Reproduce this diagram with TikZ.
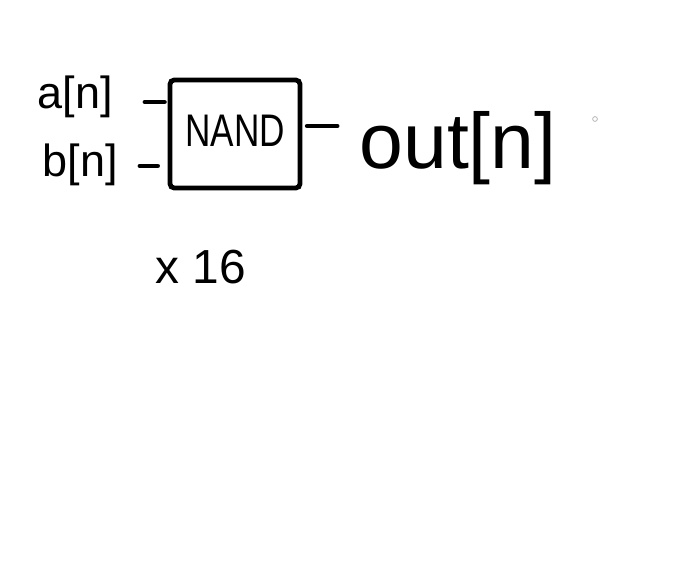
\documentclass[tikz,border=0pt]{standalone}
\usepackage{fontspec}
\setmainfont{Liberation Sans}
\begin{document}
\begin{tikzpicture}[x=0.025cm,y=-0.025cm,line width=3.4pt,line cap=round,every node/.style={inner sep=0pt}]
\useasboundingbox (0,0) rectangle (696,564);
% 16-bit NAND gate sketch
\node[draw,rounded corners=3pt,minimum width=3.25cm,minimum height=2.7cm,font=\fontsize{25}{27}\selectfont] (gate) at (235,134) {\raisebox{4pt}{\scalebox{1}[1.3]{NAND}}};
% inputs
\node[font=\fontsize{32}{34}\selectfont] (ina) at (75,97) {a[n]};
\node[font=\fontsize{32}{34}\selectfont] (inb) at (80,165) {b[n]};
\draw[shorten <=0.75cm,shorten >=0.08cm] (ina.east |- 0,102) -- (gate.west |- 0,102);
\draw[shorten <=0.5cm,shorten >=0.25cm] (inb.east |- 0,166) -- (gate.west |- 0,166);
% output
\node[font=\fontsize{56}{60}\selectfont] (outn) at (458,148) {out[n]};
\draw[shorten <=0.12cm,shorten >=0.5cm] (gate.east |- 0,126) -- (outn.west |- 0,126);
\node[circle,draw=gray!55,line width=0.6pt,minimum size=0.12cm] (dot) at (595,119) {};
% repeat count
\node[font=\fontsize{34}{36}\selectfont] (count) at (201,267) {x 16};
\end{tikzpicture}
\end{document}
